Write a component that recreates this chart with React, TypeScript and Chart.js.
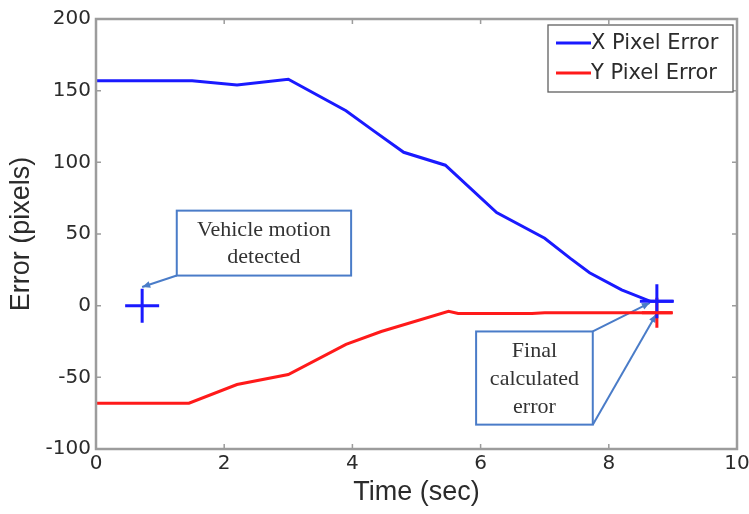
import React, { useEffect, useRef } from "react";
import { Chart, registerables } from "chart.js";

Chart.register(...registerables);

// ---- data ----
const xTickValues = [0, 2, 4, 6, 8, 10];
const yTickValues = [-100, -50, 0, 50, 100, 150, 200];

const timeX = [0, 1.5, 2.2, 3.0, 3.9, 4.3, 4.8, 5.45, 6.25, 7.0, 7.4, 7.7, 8.2, 8.65, 9.0];
const xPixelError = [157, 157, 154, 158, 136, 123, 107, 98, 65, 47, 33, 23, 11, 3, 3];

const timeY = [0, 1.45, 2.2, 3.0, 3.9, 4.45, 5.5, 5.65, 6.8, 7.0, 9.0];
const yPixelError = [-68, -68, -55, -48, -27, -18, -4, -5.5, -5.5, -5, -5];

const seriesLabels = ["X Pixel Error", "Y Pixel Error"];
const seriesColors = ["#1a1aff", "#ff1a1a"];

const motionMarker = [{ x: 0.72, y: 0 }];
const finalXMarker = [{ x: 8.75, y: 3 }];
const finalYMarker = [{ x: 8.75, y: -5 }];

const motionNote = ["Vehicle motion", "detected"];
const finalNote = ["Final", "calculated", "error"];

const xTitle = "Time (sec)";
const yTitle = "Error (pixels)";

const NOTE_COLOR = "#4a7cc8";
const AXIS_COLOR = "#9c9c9c";
const TEXT_COLOR = "#2b2b2b";
const TICK_FONT = "20px 'DejaVu Sans', sans-serif";

function arrow(ctx: CanvasRenderingContext2D, x1: number, y1: number, x2: number, y2: number) {
  ctx.beginPath();
  ctx.moveTo(x1, y1);
  ctx.lineTo(x2, y2);
  ctx.stroke();
  const a = Math.atan2(y2 - y1, x2 - x1);
  const L = 8, W = 3.5;
  ctx.beginPath();
  ctx.moveTo(x2, y2);
  ctx.lineTo(x2 - L * Math.cos(a) + W * Math.sin(a), y2 - L * Math.sin(a) - W * Math.cos(a));
  ctx.lineTo(x2 - L * Math.cos(a) - W * Math.sin(a), y2 - L * Math.sin(a) + W * Math.cos(a));
  ctx.closePath();
  ctx.fill();
}

function noteBox(ctx: CanvasRenderingContext2D, l: number, t: number, r: number, b: number, lines: string[], spacing: number) {
  ctx.fillStyle = "#ffffff";
  ctx.fillRect(l, t, r - l, b - t);
  ctx.strokeStyle = NOTE_COLOR;
  ctx.lineWidth = 2;
  ctx.strokeRect(l, t, r - l, b - t);
  ctx.fillStyle = "#333333";
  ctx.font = "22px 'Liberation Serif', 'Times New Roman', serif";
  ctx.textAlign = "center";
  ctx.textBaseline = "middle";
  const cx = (l + r) / 2;
  const cy = (t + b) / 2;
  lines.forEach((s, i) => {
    ctx.fillText(s, cx, cy + (i - (lines.length - 1) / 2) * spacing + 1);
  });
}

const decorPlugin = {
  id: "decor",
  beforeDatasetsDraw(chart: any) {
    const { ctx } = chart;
    const xs = chart.scales.x;
    const ys = chart.scales.y;
    const px = (v: number) => xs.getPixelForValue(v);
    const py = (v: number) => ys.getPixelForValue(v);
    ctx.save();
    // Vehicle motion note
    const m = motionMarker[0];
    noteBox(ctx, px(1.26), py(66.3), px(3.98), py(21), motionNote, 27);
    ctx.strokeStyle = NOTE_COLOR;
    ctx.fillStyle = NOTE_COLOR;
    ctx.lineWidth = 2;
    arrow(ctx, px(1.26), py(21), px(m.x), py(13));
    // Final note
    noteBox(ctx, px(5.93), py(-18), px(7.75), py(-83), finalNote, 28);
    ctx.strokeStyle = NOTE_COLOR;
    ctx.fillStyle = NOTE_COLOR;
    ctx.lineWidth = 2;
    arrow(ctx, px(7.75), py(-18), px(8.64), py(2));
    arrow(ctx, px(7.75), py(-83), px(8.74), py(-6));
    ctx.restore();
  },
  afterDraw(chart: any) {
    const { ctx, chartArea } = chart;
    const xs = chart.scales.x;
    const ys = chart.scales.y;
    const { left, right, top, bottom } = chartArea;
    ctx.save();
    // axes box
    ctx.strokeStyle = AXIS_COLOR;
    ctx.lineWidth = 2.5;
    ctx.strokeRect(left, top, right - left, bottom - top);
    // inward ticks
    ctx.lineWidth = 1.5;
    const tl = 5;
    ctx.beginPath();
    xTickValues.forEach((v) => {
      const X = xs.getPixelForValue(v);
      ctx.moveTo(X, bottom); ctx.lineTo(X, bottom - tl);
      ctx.moveTo(X, top); ctx.lineTo(X, top + tl);
    });
    yTickValues.forEach((v) => {
      const Y = ys.getPixelForValue(v);
      ctx.moveTo(left, Y); ctx.lineTo(left + tl, Y);
      ctx.moveTo(right, Y); ctx.lineTo(right - tl, Y);
    });
    ctx.stroke();

    // x tick labels
    ctx.fillStyle = TEXT_COLOR;
    ctx.font = TICK_FONT;
    ctx.textAlign = "center";
    ctx.textBaseline = "middle";
    xTickValues.forEach((v) => {
      ctx.fillText(String(v), xs.getPixelForValue(v), bottom + 15);
    });

    // axis titles
    ctx.font = "27px 'Liberation Sans', Arial, sans-serif";
    ctx.fillText(xTitle, (left + right) / 2, 493);
    ctx.save();
    ctx.translate(22, (top + bottom) / 2);
    ctx.rotate(-Math.PI / 2);
    ctx.fillText(yTitle, 0, 0);
    ctx.restore();

    // legend
    const lw = 185, lh = 67;
    const lx = right - 4 - lw, ly = top + 6;
    ctx.fillStyle = "#ffffff";
    ctx.fillRect(lx, ly, lw, lh);
    ctx.strokeStyle = "#606060";
    ctx.lineWidth = 1.3;
    ctx.strokeRect(lx, ly, lw, lh);
    ctx.font = "21px 'DejaVu Sans', sans-serif";
    ctx.textAlign = "left";
    seriesLabels.forEach((lab, i) => {
      const yy = ly + 18 + i * 30;
      ctx.strokeStyle = seriesColors[i];
      ctx.lineWidth = 3;
      ctx.beginPath();
      ctx.moveTo(lx + 8, yy);
      ctx.lineTo(lx + 43, yy);
      ctx.stroke();
      ctx.fillStyle = TEXT_COLOR;
      ctx.fillText(lab, lx + 43, yy + 1);
    });
    ctx.restore();
  },
};

export default function App() {
  const ref = useRef<HTMLCanvasElement | null>(null);

  useEffect(() => {
    document.body.style.margin = "0";
    const canvas = ref.current;
    if (!canvas) return;
    const toXY = (xsArr: number[], ysArr: number[]) => xsArr.map((x, i) => ({ x, y: ysArr[i] }));
    const chart = new Chart(canvas, {
      type: "scatter",
      data: {
        datasets: [
          {
            label: seriesLabels[0],
            data: toXY(timeX, xPixelError),
            showLine: true,
            borderColor: seriesColors[0],
            backgroundColor: seriesColors[0],
            borderWidth: 3,
            pointRadius: 0,
            tension: 0,
          },
          {
            label: seriesLabels[1],
            data: toXY(timeY, yPixelError),
            showLine: true,
            borderColor: seriesColors[1],
            backgroundColor: seriesColors[1],
            borderWidth: 3,
            pointRadius: 0,
            tension: 0,
          },
          {
            label: "motion",
            data: motionMarker,
            pointStyle: "cross",
            pointRadius: 17,
            pointBorderWidth: 3,
            borderColor: seriesColors[0],
            showLine: false,
          },
          {
            label: "finalX",
            data: finalXMarker,
            pointStyle: "cross",
            pointRadius: 17,
            pointBorderWidth: 3,
            borderColor: seriesColors[0],
            showLine: false,
          },
          {
            label: "finalY",
            data: finalYMarker,
            pointStyle: "cross",
            pointRadius: 15,
            pointBorderWidth: 3,
            borderColor: seriesColors[1],
            showLine: false,
          },
        ] as any,
      },
      options: {
        animation: false,
        responsive: false,
        maintainAspectRatio: false,
        events: [],
        layout: { autoPadding: false, padding: { left: 0, right: 12, top: 19, bottom: 0 } },
        plugins: { legend: { display: false }, tooltip: { enabled: false } },
        scales: {
          x: {
            type: "linear",
            min: 0,
            max: 10,
            afterBuildTicks: (s: any) => { s.ticks = xTickValues.map((v) => ({ value: v })); },
            afterFit: (s: any) => { s.height = 65; },
            grid: { display: false, drawTicks: false },
            border: { display: false },
            ticks: { display: false },
          },
          y: {
            type: "linear",
            min: -100,
            max: 200,
            afterBuildTicks: (s: any) => { s.ticks = yTickValues.map((v) => ({ value: v })); },
            afterFit: (s: any) => { s.width = 96; },
            grid: { display: false, drawTicks: false },
            border: { display: false },
            ticks: {
              padding: 5,
              color: TEXT_COLOR,
              font: { family: "'DejaVu Sans', sans-serif", size: 20 },
              autoSkip: false,
            },
          },
        },
      },
      plugins: [decorPlugin],
    } as any);
    return () => chart.destroy();
  }, []);

  return (
    <div style={{ width: 749, height: 514 }}>
      <canvas ref={ref} width={749} height={514} style={{ display: "block" }} />
    </div>
  );
}
